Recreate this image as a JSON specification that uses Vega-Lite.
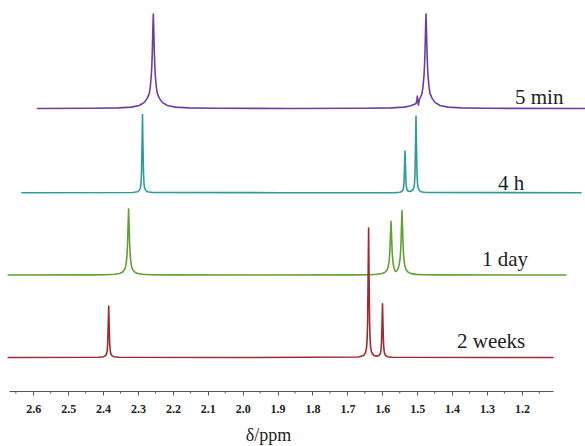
{
  "$schema": "https://vega.github.io/schema/vega-lite/v6.json",
  "width": 544,
  "height": 391,
  "autosize": {"type": "none"},
  "padding": {"left": 9, "top": 0, "right": 32, "bottom": 55},
  "background": "white",
  "config": {"view": {"stroke": null}, "axis": {"labelOverlap": false}},
  "datasets": {
    "spectra": [
      {"t": "5 min", "x": 2.5880, "y": 282.5},
      {"t": "5 min", "x": 2.4281, "y": 282.7},
      {"t": "5 min", "x": 2.3564, "y": 283.1},
      {"t": "5 min", "x": 2.3192, "y": 283.9},
      {"t": "5 min", "x": 2.2963, "y": 285.5},
      {"t": "5 min", "x": 2.2819, "y": 288.6},
      {"t": "5 min", "x": 2.2733, "y": 292.9},
      {"t": "5 min", "x": 2.2676, "y": 297.6},
      {"t": "5 min", "x": 2.2647, "y": 304.2},
      {"t": "5 min", "x": 2.2619, "y": 315.6},
      {"t": "5 min", "x": 2.2604, "y": 325.0},
      {"t": "5 min", "x": 2.2590, "y": 339.2},
      {"t": "5 min", "x": 2.2576, "y": 360.0},
      {"t": "5 min", "x": 2.2561, "y": 377.0},
      {"t": "5 min", "x": 2.2547, "y": 360.0},
      {"t": "5 min", "x": 2.2533, "y": 339.2},
      {"t": "5 min", "x": 2.2518, "y": 325.0},
      {"t": "5 min", "x": 2.2504, "y": 315.6},
      {"t": "5 min", "x": 2.2475, "y": 304.2},
      {"t": "5 min", "x": 2.2447, "y": 297.6},
      {"t": "5 min", "x": 2.2390, "y": 292.9},
      {"t": "5 min", "x": 2.2304, "y": 288.6},
      {"t": "5 min", "x": 2.2160, "y": 285.5},
      {"t": "5 min", "x": 2.1931, "y": 283.9},
      {"t": "5 min", "x": 2.1559, "y": 283.1},
      {"t": "5 min", "x": 2.0842, "y": 282.7},
      {"t": "5 min", "x": 1.8645, "y": 282.5},
      {"t": "5 min", "x": 1.6467, "y": 282.7},
      {"t": "5 min", "x": 1.5751, "y": 283.1},
      {"t": "5 min", "x": 1.5378, "y": 283.9},
      {"t": "5 min", "x": 1.5206, "y": 285.0},
      {"t": "5 min", "x": 1.5092, "y": 286.5},
      {"t": "5 min", "x": 1.5034, "y": 287.5},
      {"t": "5 min", "x": 1.5011, "y": 290.5},
      {"t": "5 min", "x": 1.4997, "y": 295.0},
      {"t": "5 min", "x": 1.4983, "y": 289.5},
      {"t": "5 min", "x": 1.4965, "y": 286.0},
      {"t": "5 min", "x": 1.4934, "y": 292.0},
      {"t": "5 min", "x": 1.4891, "y": 295.0},
      {"t": "5 min", "x": 1.4862, "y": 297.6},
      {"t": "5 min", "x": 1.4834, "y": 304.2},
      {"t": "5 min", "x": 1.4805, "y": 315.6},
      {"t": "5 min", "x": 1.4791, "y": 325.0},
      {"t": "5 min", "x": 1.4776, "y": 339.2},
      {"t": "5 min", "x": 1.4762, "y": 360.0},
      {"t": "5 min", "x": 1.4748, "y": 377.0},
      {"t": "5 min", "x": 1.4733, "y": 360.0},
      {"t": "5 min", "x": 1.4719, "y": 339.2},
      {"t": "5 min", "x": 1.4705, "y": 325.0},
      {"t": "5 min", "x": 1.4690, "y": 315.6},
      {"t": "5 min", "x": 1.4662, "y": 304.2},
      {"t": "5 min", "x": 1.4633, "y": 297.6},
      {"t": "5 min", "x": 1.4576, "y": 292.9},
      {"t": "5 min", "x": 1.4490, "y": 288.6},
      {"t": "5 min", "x": 1.4347, "y": 285.5},
      {"t": "5 min", "x": 1.4117, "y": 283.9},
      {"t": "5 min", "x": 1.3745, "y": 283.1},
      {"t": "5 min", "x": 1.3028, "y": 282.7},
      {"t": "5 min", "x": 1.0049, "y": 282.5},

      {"t": "4 h", "x": 2.6324, "y": 198.3},
      {"t": "4 h", "x": 2.3157, "y": 198.5},
      {"t": "4 h", "x": 2.3014, "y": 199.2},
      {"t": "4 h", "x": 2.2957, "y": 201.0},
      {"t": "4 h", "x": 2.2928, "y": 203.8},
      {"t": "4 h", "x": 2.2914, "y": 207.7},
      {"t": "4 h", "x": 2.2900, "y": 217.9},
      {"t": "4 h", "x": 2.2885, "y": 245.2},
      {"t": "4 h", "x": 2.2871, "y": 276.5},
      {"t": "4 h", "x": 2.2857, "y": 245.2},
      {"t": "4 h", "x": 2.2842, "y": 217.9},
      {"t": "4 h", "x": 2.2828, "y": 207.7},
      {"t": "4 h", "x": 2.2814, "y": 203.8},
      {"t": "4 h", "x": 2.2785, "y": 201.0},
      {"t": "4 h", "x": 2.2728, "y": 199.2},
      {"t": "4 h", "x": 2.2584, "y": 198.5},
      {"t": "4 h", "x": 1.8931, "y": 198.3},
      {"t": "4 h", "x": 1.5636, "y": 198.4},
      {"t": "4 h", "x": 1.5493, "y": 198.8},
      {"t": "4 h", "x": 1.5435, "y": 199.8},
      {"t": "4 h", "x": 1.5407, "y": 201.2},
      {"t": "4 h", "x": 1.5392, "y": 203.3},
      {"t": "4 h", "x": 1.5378, "y": 208.7},
      {"t": "4 h", "x": 1.5364, "y": 223.3},
      {"t": "4 h", "x": 1.5349, "y": 240.0},
      {"t": "4 h", "x": 1.5335, "y": 223.3},
      {"t": "4 h", "x": 1.5321, "y": 208.7},
      {"t": "4 h", "x": 1.5306, "y": 203.3},
      {"t": "4 h", "x": 1.5292, "y": 201.2},
      {"t": "4 h", "x": 1.5263, "y": 199.9},
      {"t": "4 h", "x": 1.5192, "y": 199.5},
      {"t": "4 h", "x": 1.5120, "y": 201.2},
      {"t": "4 h", "x": 1.5092, "y": 203.8},
      {"t": "4 h", "x": 1.5077, "y": 207.5},
      {"t": "4 h", "x": 1.5063, "y": 217.5},
      {"t": "4 h", "x": 1.5049, "y": 244.3},
      {"t": "4 h", "x": 1.5034, "y": 275.0},
      {"t": "4 h", "x": 1.5020, "y": 244.3},
      {"t": "4 h", "x": 1.5006, "y": 217.5},
      {"t": "4 h", "x": 1.4991, "y": 207.5},
      {"t": "4 h", "x": 1.4977, "y": 203.7},
      {"t": "4 h", "x": 1.4948, "y": 201.0},
      {"t": "4 h", "x": 1.4891, "y": 199.2},
      {"t": "4 h", "x": 1.4748, "y": 198.5},
      {"t": "4 h", "x": 1.0306, "y": 198.3},

      {"t": "1 day", "x": 2.6719, "y": 116.0},
      {"t": "1 day", "x": 2.4272, "y": 116.1},
      {"t": "1 day", "x": 2.3900, "y": 116.3},
      {"t": "1 day", "x": 2.3670, "y": 116.7},
      {"t": "1 day", "x": 2.3527, "y": 117.5},
      {"t": "1 day", "x": 2.3441, "y": 119.0},
      {"t": "1 day", "x": 2.3384, "y": 121.6},
      {"t": "1 day", "x": 2.3355, "y": 124.6},
      {"t": "1 day", "x": 2.3326, "y": 131.2},
      {"t": "1 day", "x": 2.3312, "y": 137.8},
      {"t": "1 day", "x": 2.3298, "y": 149.0},
      {"t": "1 day", "x": 2.3284, "y": 165.5},
      {"t": "1 day", "x": 2.3269, "y": 182.0},
      {"t": "1 day", "x": 2.3255, "y": 165.5},
      {"t": "1 day", "x": 2.3241, "y": 149.0},
      {"t": "1 day", "x": 2.3226, "y": 137.8},
      {"t": "1 day", "x": 2.3212, "y": 131.2},
      {"t": "1 day", "x": 2.3183, "y": 124.6},
      {"t": "1 day", "x": 2.3155, "y": 121.6},
      {"t": "1 day", "x": 2.3097, "y": 119.0},
      {"t": "1 day", "x": 2.3011, "y": 117.5},
      {"t": "1 day", "x": 2.2868, "y": 116.7},
      {"t": "1 day", "x": 2.2639, "y": 116.3},
      {"t": "1 day", "x": 2.2266, "y": 116.1},
      {"t": "1 day", "x": 1.9504, "y": 116.0},
      {"t": "1 day", "x": 1.6753, "y": 116.1},
      {"t": "1 day", "x": 1.6381, "y": 116.3},
      {"t": "1 day", "x": 1.6152, "y": 116.7},
      {"t": "1 day", "x": 1.6008, "y": 117.5},
      {"t": "1 day", "x": 1.5922, "y": 118.8},
      {"t": "1 day", "x": 1.5865, "y": 121.0},
      {"t": "1 day", "x": 1.5837, "y": 123.5},
      {"t": "1 day", "x": 1.5808, "y": 128.8},
      {"t": "1 day", "x": 1.5794, "y": 134.1},
      {"t": "1 day", "x": 1.5779, "y": 143.2},
      {"t": "1 day", "x": 1.5765, "y": 156.3},
      {"t": "1 day", "x": 1.5751, "y": 169.6},
      {"t": "1 day", "x": 1.5736, "y": 156.4},
      {"t": "1 day", "x": 1.5722, "y": 143.4},
      {"t": "1 day", "x": 1.5708, "y": 134.5},
      {"t": "1 day", "x": 1.5693, "y": 128.5},
      {"t": "1 day", "x": 1.5665, "y": 123.0},
      {"t": "1 day", "x": 1.5636, "y": 120.0},
      {"t": "1 day", "x": 1.5607, "y": 119.5},
      {"t": "1 day", "x": 1.5579, "y": 120.5},
      {"t": "1 day", "x": 1.5550, "y": 122.5},
      {"t": "1 day", "x": 1.5521, "y": 125.5},
      {"t": "1 day", "x": 1.5493, "y": 131.5},
      {"t": "1 day", "x": 1.5478, "y": 137.7},
      {"t": "1 day", "x": 1.5464, "y": 148.5},
      {"t": "1 day", "x": 1.5450, "y": 164.4},
      {"t": "1 day", "x": 1.5435, "y": 180.5},
      {"t": "1 day", "x": 1.5421, "y": 164.3},
      {"t": "1 day", "x": 1.5407, "y": 148.2},
      {"t": "1 day", "x": 1.5392, "y": 137.2},
      {"t": "1 day", "x": 1.5378, "y": 130.8},
      {"t": "1 day", "x": 1.5349, "y": 124.4},
      {"t": "1 day", "x": 1.5321, "y": 121.5},
      {"t": "1 day", "x": 1.5263, "y": 118.9},
      {"t": "1 day", "x": 1.5177, "y": 117.4},
      {"t": "1 day", "x": 1.5034, "y": 116.6},
      {"t": "1 day", "x": 1.4805, "y": 116.3},
      {"t": "1 day", "x": 1.4432, "y": 116.1},
      {"t": "1 day", "x": 1.0736, "y": 116.0},

      {"t": "2 weeks", "x": 2.6719, "y": 33.5},
      {"t": "2 weeks", "x": 2.4126, "y": 33.7},
      {"t": "2 weeks", "x": 2.3983, "y": 34.3},
      {"t": "2 weeks", "x": 2.3925, "y": 35.6},
      {"t": "2 weeks", "x": 2.3897, "y": 37.6},
      {"t": "2 weeks", "x": 2.3882, "y": 40.7},
      {"t": "2 weeks", "x": 2.3868, "y": 47.4},
      {"t": "2 weeks", "x": 2.3854, "y": 64.4},
      {"t": "2 weeks", "x": 2.3839, "y": 85.0},
      {"t": "2 weeks", "x": 2.3825, "y": 64.4},
      {"t": "2 weeks", "x": 2.3811, "y": 47.4},
      {"t": "2 weeks", "x": 2.3796, "y": 40.7},
      {"t": "2 weeks", "x": 2.3782, "y": 37.6},
      {"t": "2 weeks", "x": 2.3753, "y": 35.6},
      {"t": "2 weeks", "x": 2.3696, "y": 34.3},
      {"t": "2 weeks", "x": 2.3553, "y": 33.7},
      {"t": "2 weeks", "x": 2.0077, "y": 33.5},
      {"t": "2 weeks", "x": 1.6679, "y": 34.0},
      {"t": "2 weeks", "x": 1.6536, "y": 35.4},
      {"t": "2 weeks", "x": 1.6478, "y": 38.7},
      {"t": "2 weeks", "x": 1.6450, "y": 43.9},
      {"t": "2 weeks", "x": 1.6435, "y": 51.6},
      {"t": "2 weeks", "x": 1.6421, "y": 68.5},
      {"t": "2 weeks", "x": 1.6407, "y": 111.2},
      {"t": "2 weeks", "x": 1.6392, "y": 163.0},
      {"t": "2 weeks", "x": 1.6378, "y": 111.2},
      {"t": "2 weeks", "x": 1.6364, "y": 68.5},
      {"t": "2 weeks", "x": 1.6349, "y": 51.6},
      {"t": "2 weeks", "x": 1.6335, "y": 43.9},
      {"t": "2 weeks", "x": 1.6306, "y": 38.7},
      {"t": "2 weeks", "x": 1.6249, "y": 35.7},
      {"t": "2 weeks", "x": 1.6195, "y": 35.1},
      {"t": "2 weeks", "x": 1.6137, "y": 34.9},
      {"t": "2 weeks", "x": 1.6080, "y": 36.0},
      {"t": "2 weeks", "x": 1.6051, "y": 38.1},
      {"t": "2 weeks", "x": 1.6037, "y": 41.3},
      {"t": "2 weeks", "x": 1.6023, "y": 48.2},
      {"t": "2 weeks", "x": 1.6008, "y": 65.8},
      {"t": "2 weeks", "x": 1.5994, "y": 87.2},
      {"t": "2 weeks", "x": 1.5980, "y": 65.6},
      {"t": "2 weeks", "x": 1.5965, "y": 47.9},
      {"t": "2 weeks", "x": 1.5951, "y": 41.0},
      {"t": "2 weeks", "x": 1.5937, "y": 37.8},
      {"t": "2 weeks", "x": 1.5908, "y": 35.6},
      {"t": "2 weeks", "x": 1.5851, "y": 34.3},
      {"t": "2 weeks", "x": 1.5708, "y": 33.7},
      {"t": "2 weeks", "x": 1.1109, "y": 33.5}
    ],
    "labels": [
      {"t": "5 min", "x": 1.2198, "y": 287},
      {"t": "4 h", "x": 1.2685, "y": 201},
      {"t": "1 day", "x": 1.3143, "y": 125},
      {"t": "2 weeks", "x": 1.3859, "y": 43}
    ],
    "minorTicks": [
      {"x": 2.65, "y": 0, "y2": -2.5}, {"x": 2.55, "y": 0, "y2": -2.5}, {"x": 2.45, "y": 0, "y2": -2.5}, {"x": 2.35, "y": 0, "y2": -2.5},
      {"x": 2.25, "y": 0, "y2": -2.5}, {"x": 2.15, "y": 0, "y2": -2.5}, {"x": 2.05, "y": 0, "y2": -2.5}, {"x": 1.95, "y": 0, "y2": -2.5},
      {"x": 1.85, "y": 0, "y2": -2.5}, {"x": 1.75, "y": 0, "y2": -2.5}, {"x": 1.65, "y": 0, "y2": -2.5}, {"x": 1.55, "y": 0, "y2": -2.5},
      {"x": 1.45, "y": 0, "y2": -2.5}, {"x": 1.35, "y": 0, "y2": -2.5}, {"x": 1.25, "y": 0, "y2": -2.5}, {"x": 1.15, "y": 0, "y2": -2.5}
    ]
  },
  "encoding": {
    "x": {
      "field": "x",
      "type": "quantitative",
      "scale": {"domain": [1.1109, 2.6696], "reverse": true, "nice": false, "zero": false},
      "axis": {
        "values": [2.6, 2.5, 2.4, 2.3, 2.2, 2.1, 2.0, 1.9, 1.8, 1.7, 1.6, 1.5, 1.4, 1.3, 1.2],
        "format": ".1f",
        "tickSize": 4,
        "tickColor": "#555555",
        "tickWidth": 1,
        "domainColor": "#555555",
        "domainWidth": 1,
        "grid": false,
        "labelFont": "Liberation Serif",
        "labelFontSize": 12,
        "labelFontWeight": "bold",
        "labelColor": "#222222",
        "labelPadding": 8,
        "labelFlush": false,
        "labelOverlap": false,
        "title": "δ/ppm",
        "titleFont": "Liberation Serif",
        "titleFontSize": 18,
        "titleFontWeight": "normal",
        "titleColor": "#222222",
        "titleX": 259,
        "titleY": 49,
        "titleAlign": "center",
        "titleBaseline": "alphabetic"
      }
    },
    "y": {
      "field": "y",
      "type": "quantitative",
      "scale": {"domain": [0, 391], "nice": false, "zero": false},
      "axis": null
    }
  },
  "layer": [
    {
      "data": {"name": "spectra"},
      "mark": {"type": "line", "strokeWidth": 1.6, "strokeJoin": "round", "strokeCap": "round"},
      "encoding": {
        "color": {
          "field": "t",
          "type": "nominal",
          "scale": {"domain": ["5 min", "4 h", "1 day", "2 weeks"], "range": ["#6d3ea3", "#2e9c9a", "#62a033", "#9f2a2f"]},
          "legend": null
        },
        "detail": {"field": "t"}
      }
    },
    {
      "data": {"name": "minorTicks"},
      "mark": {"type": "rule", "color": "#555555", "strokeWidth": 1},
      "encoding": {
        "y2": {"field": "y2"}
      }
    },
    {
      "data": {"name": "labels"},
      "mark": {"type": "text", "align": "left", "baseline": "alphabetic", "font": "Liberation Serif", "fontSize": 21, "color": "#222222"},
      "encoding": {
        "text": {"field": "t"}
      }
    }
  ]
}
